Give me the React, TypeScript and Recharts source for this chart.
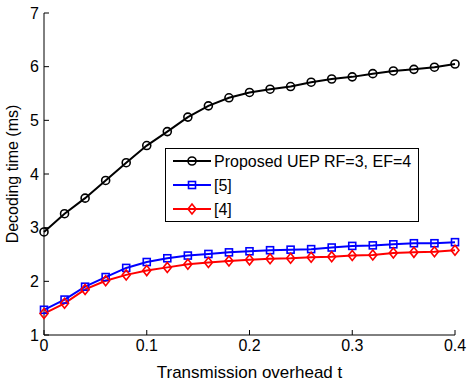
import { LineChart, Line, XAxis, YAxis } from 'recharts';

const overhead = [0, 0.02, 0.04, 0.06, 0.08, 0.1, 0.12, 0.14, 0.16, 0.18, 0.2, 0.22, 0.24, 0.26, 0.28, 0.3, 0.32, 0.34, 0.36, 0.38, 0.4];
const proposed = [2.92, 3.26, 3.55, 3.88, 4.21, 4.53, 4.79, 5.06, 5.27, 5.42, 5.52, 5.58, 5.63, 5.71, 5.77, 5.81, 5.87, 5.92, 5.95, 5.99, 6.05];
const ref5 = [1.47, 1.66, 1.9, 2.08, 2.25, 2.36, 2.43, 2.48, 2.51, 2.54, 2.56, 2.58, 2.59, 2.6, 2.63, 2.66, 2.67, 2.69, 2.71, 2.71, 2.73];
const ref4 = [1.4, 1.59, 1.85, 2.01, 2.12, 2.2, 2.26, 2.32, 2.35, 2.38, 2.4, 2.42, 2.43, 2.45, 2.46, 2.48, 2.49, 2.53, 2.54, 2.55, 2.58];
const xTicks = [0, 0.1, 0.2, 0.3, 0.4];
const yTicks = [1, 2, 3, 4, 5, 6, 7];

const data = overhead.map((t, i) => ({ t, proposed: proposed[i], ref5: ref5[i], ref4: ref4[i] }));

const font = 'Liberation Sans, Arial, sans-serif';

function Circle(props: any) {
  const { cx, cy } = props;
  if (cx == null || cy == null) return null;
  return <circle cx={cx} cy={cy} r={4} fill="none" stroke="#000" strokeWidth={1.6} />;
}

function Square(props: any) {
  const { cx, cy } = props;
  if (cx == null || cy == null) return null;
  return <rect x={cx - 3.5} y={cy - 3.5} width={7} height={7} fill="none" stroke="#0000ff" strokeWidth={1.6} />;
}

function Diamond(props: any) {
  const { cx, cy } = props;
  if (cx == null || cy == null) return null;
  return <path d={`M${cx},${cy - 5}L${cx + 4},${cy}L${cx},${cy + 5}L${cx - 4},${cy}Z`} fill="none" stroke="#ff0000" strokeWidth={1.6} />;
}

const legendItems = [
  { label: 'Proposed UEP RF=3, EF=4', color: '#000', Marker: Circle },
  { label: '[5]', color: '#0000ff', Marker: Square },
  { label: '[4]', color: '#ff0000', Marker: Diamond },
];

function LegendBox() {
  return (
    <svg width={254} height={74} style={{ position: 'absolute', left: 165, top: 148 }}>
      <rect x={0.5} y={0.5} width={253} height={73} fill="#fff" stroke="#000" strokeWidth={1} />
      {legendItems.map((item, i) => {
        const y = 13 + i * 24;
        const M = item.Marker;
        return (
          <g key={item.label}>
            <line x1={8} x2={46} y1={y} y2={y} stroke={item.color} strokeWidth={2} />
            <M cx={27} cy={y} />
            <text x={49} y={y + 6} fontSize={16} fontFamily={font} fill="#000">{item.label}</text>
          </g>
        );
      })}
    </svg>
  );
}

function YLabel(props: any) {
  const vb = props.viewBox || {};
  const cy = (vb.y || 0) + (vb.height || 0) / 2;
  return (
    <text x={18} y={cy} transform={`rotate(-90, 18, ${cy})`} textAnchor="middle" fontSize={16} fontFamily={font} fill="#000">
      Decoding time (ms)
    </text>
  );
}

export default function App() {
  return (
    <div style={{ position: 'absolute', left: 0, top: 0, background: '#fff' }}>
      <LineChart width={467} height={381} data={data} margin={{ top: 13, right: 12, left: 0, bottom: 0 }}>
        <XAxis
          dataKey="t"
          type="number"
          domain={[0, 0.4]}
          ticks={xTicks}
          height={46}
          stroke="#000"
          tickSize={-5}
          tickMargin={10}
          tick={{ fill: '#000', fontSize: 16, fontFamily: font }}
          label={{ value: 'Transmission overhead t', position: 'insideBottom', offset: 3, fill: '#000', fontSize: 17, fontFamily: font }}
        />
        <YAxis
          type="number"
          domain={[1, 7]}
          ticks={yTicks}
          width={44}
          stroke="#000"
          tickSize={-5}
          tickMargin={10}
          tick={{ fill: '#000', fontSize: 16, fontFamily: font }}
          label={<YLabel />}
        />
        <Line dataKey="proposed" stroke="#000" strokeWidth={2} dot={<Circle />} isAnimationActive={false} />
        <Line dataKey="ref5" stroke="#0000ff" strokeWidth={2} dot={<Square />} isAnimationActive={false} />
        <Line dataKey="ref4" stroke="#ff0000" strokeWidth={2} dot={<Diamond />} isAnimationActive={false} />
      </LineChart>
      <LegendBox />
    </div>
  );
}
